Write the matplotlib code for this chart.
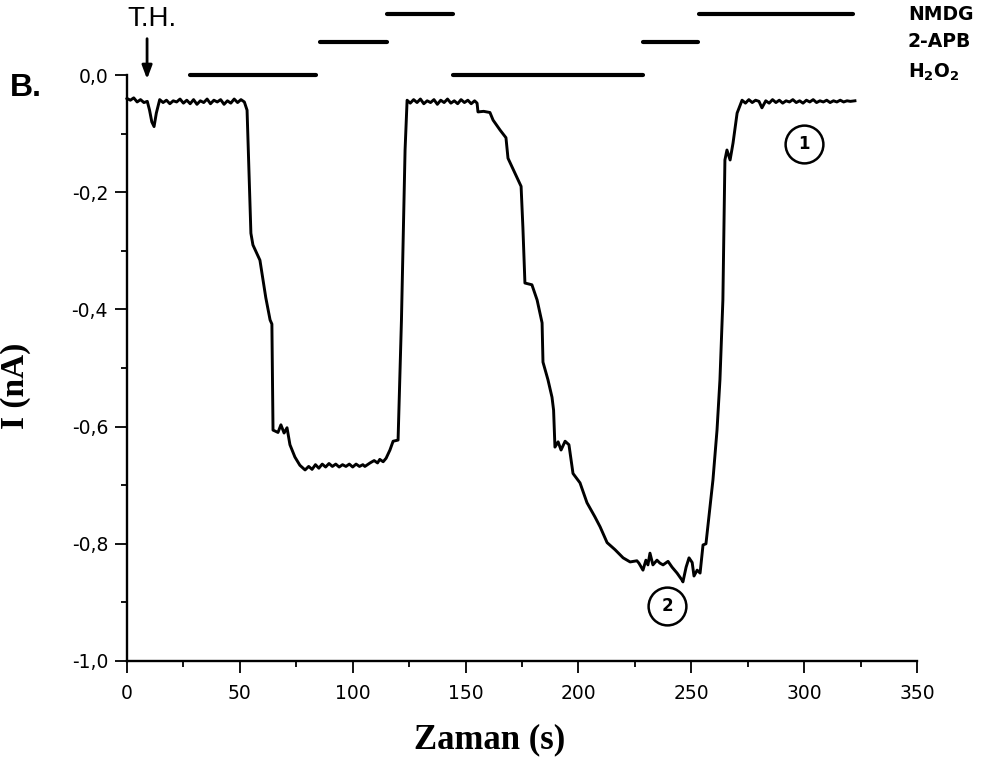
import matplotlib
matplotlib.use("Agg")
import matplotlib.pyplot as plt

# ---- data ----
time_s = [
    0, 1.5, 3, 4.5, 6, 7.5, 9, 10, 11, 12, 13, 14.5, 16, 17.5, 19, 20.5, 22, 23.5, 25, 26.5,
    28, 29.5, 31, 32.5, 34, 35.5, 37, 38.5, 40, 41.5, 43, 44.5, 46, 47.5, 49, 50.5, 52,
    53.2, 54.9, 55.8, 58.9, 59.8, 61.5, 63.4, 64.2, 64.7, 66.9, 68.2, 69.6, 70.9, 72.2,
    74.4, 76.6, 78.9, 80.5, 82, 83.5, 85, 86.5, 88, 89.5, 91, 92.5, 94, 95.5, 97, 98.5,
    100, 101.5, 103, 104.5, 105.4, 107.7, 109.5, 111, 112, 113.5, 114.8, 116.5, 117.9, 120.1,
    121.6, 122.7, 123.2, 124.1,
    125.5, 127, 128.5, 130, 131.5, 133, 134.5, 136, 137.5, 139, 140.5, 142, 143.5, 145,
    146.5, 148, 149.5, 151, 152.5, 154, 155.1,
    155.5, 158, 160.8, 162.2, 165.3, 167.9, 168.8, 170.6, 174.6, 175.4, 176.3, 179.4,
    181.7, 183.9, 184.3, 186.1, 186.5, 188.3, 189.0, 189.6, 191.0, 192.3, 194.1, 195.8,
    197.6, 200.7, 203.8, 207.3, 209.6, 212.7, 216.2, 219.8, 222.9, 225.9, 226.8, 228.6,
    229.9, 230.8, 231.7, 233.0, 234.8, 236.1, 237.5, 239.7, 241.5, 243.7, 245.9, 246.3,
    247.7, 249.0, 250.4, 251.2, 252.6, 253.9, 255.2, 256.5, 258.3, 259.6, 261.4, 262.7,
    264.0, 264.9, 265.8, 267.2, 268.5, 270.3, 272.5,
    274, 275.5, 277, 278.5, 280, 281.3, 283, 284.5, 286, 287.5, 289, 290.5, 292, 293.5,
    295, 296.5, 298, 299.5, 301, 302.5, 304, 305.5, 307, 308.5, 310, 311.5, 313, 314.5,
    316, 317.5, 319, 320.5, 322.5,
]
current_nA = [
    -0.040, -0.043, -0.039, -0.046, -0.042, -0.047, -0.045, -0.060, -0.080, -0.088, -0.065,
    -0.042, -0.047, -0.043, -0.049, -0.044, -0.046, -0.041, -0.048, -0.043,
    -0.049, -0.042, -0.050, -0.044, -0.047, -0.041, -0.049, -0.043, -0.046, -0.042, -0.050,
    -0.044, -0.048, -0.041, -0.047, -0.042, -0.046,
    -0.060, -0.270, -0.290, -0.316, -0.338, -0.380, -0.418, -0.425, -0.606, -0.610, -0.597,
    -0.611, -0.602, -0.631,
    -0.652, -0.666, -0.674, -0.668, -0.673, -0.665, -0.671, -0.664, -0.669, -0.663, -0.668,
    -0.664, -0.669, -0.665, -0.668, -0.664,
    -0.669, -0.664, -0.668, -0.665, -0.668, -0.662, -0.658, -0.662, -0.656, -0.660, -0.654,
    -0.640, -0.625, -0.623,
    -0.418, -0.213, -0.128, -0.043,
    -0.048, -0.042, -0.047, -0.041, -0.049, -0.044, -0.047, -0.042, -0.050, -0.043, -0.047,
    -0.041, -0.048, -0.044, -0.049, -0.042, -0.047, -0.043, -0.049, -0.044, -0.048,
    -0.063, -0.062, -0.064, -0.077, -0.094, -0.107, -0.142, -0.157, -0.190, -0.260, -0.355,
    -0.358, -0.384, -0.423, -0.490, -0.515, -0.520, -0.550, -0.572, -0.635, -0.626, -0.640,
    -0.625, -0.631,
    -0.680, -0.696, -0.730, -0.754, -0.771, -0.798, -0.810, -0.824, -0.831, -0.829, -0.833,
    -0.845,
    -0.828, -0.836, -0.816, -0.836, -0.828, -0.833, -0.836, -0.830, -0.840, -0.850, -0.862,
    -0.865,
    -0.840, -0.824, -0.832, -0.855, -0.845, -0.850, -0.802, -0.800, -0.737, -0.691, -0.606,
    -0.520,
    -0.384, -0.145, -0.128, -0.145, -0.116, -0.065, -0.043,
    -0.048, -0.042, -0.047, -0.043, -0.045, -0.056, -0.044, -0.048, -0.042, -0.047, -0.043,
    -0.048, -0.044, -0.046, -0.042, -0.047, -0.044, -0.048, -0.043, -0.046, -0.042, -0.047,
    -0.044, -0.046, -0.043, -0.047, -0.044, -0.046, -0.043, -0.046, -0.044, -0.045, -0.044,
]

# application bars: (start, end) in seconds
h2o2_bars = [(27.9, 83.7), (144.4, 228.6)]
apb_bars = [(85.5, 115.2), (228.6, 253.0)]
nmdg_bars = [(115.2, 144.4), (253.4, 321.7)]
bar_levels = {"NMDG": 0.104, "2-APB": 0.057, "H2O2": 0.0}

x_ticks = [0, 50, 100, 150, 200, 250, 300, 350]
y_ticks = [-1.0, -0.8, -0.6, -0.4, -0.2, 0.0]
y_tick_labels = ["-1,0", "-0,8", "-0,6", "-0,4", "-0,2", "0,0"]

# ---- figure ----
fig = plt.figure(figsize=(9.92, 7.6), dpi=100)
ax = fig.add_axes([0.128, 0.1303, 0.7964, 0.771])

ax.plot(time_s, current_nA, color="black", lw=2.1, clip_on=False,
        solid_joinstyle="round")

for bars, key in [(h2o2_bars, "H2O2"), (apb_bars, "2-APB"), (nmdg_bars, "NMDG")]:
    for a, b in bars:
        ax.plot([a, b], [bar_levels[key]] * 2, color="black", lw=3,
                solid_capstyle="round", clip_on=False)

ax.set_xlim(0, 350)
ax.set_ylim(-1.0, 0.0)
ax.set_xticks(x_ticks)
ax.set_xticks([25, 75, 125, 175, 225, 275, 325], minor=True)
ax.set_yticks(y_ticks)
ax.set_yticklabels(y_tick_labels)
ax.set_yticks([-0.9, -0.7, -0.5, -0.3, -0.1], minor=True)

for s in ["top", "right"]:
    ax.spines[s].set_visible(False)
for s in ["left", "bottom"]:
    ax.spines[s].set_linewidth(1.7)

ax.tick_params(axis="both", which="major", direction="out", length=8.6, width=1.3,
               labelsize=13.5, colors="black")
ax.tick_params(axis="both", which="minor", direction="out", length=4.3, width=1.3)
ax.tick_params(axis="x", which="major", pad=8)
ax.tick_params(axis="y", which="major", pad=5)
for lab in ax.get_xticklabels() + ax.get_yticklabels():
    lab.set_family("DejaVu Sans")

ax.set_xlabel("Zaman (s)", family="Liberation Serif", fontweight="bold", fontsize=25)
ax.xaxis.set_label_coords(0.459, -0.107)
ax.set_ylabel("I (nA)", family="Liberation Serif", fontweight="bold", fontsize=24)
ax.yaxis.set_label_coords(-0.122, 0.469)

# right-hand labels
lab_kw = dict(family="DejaVu Sans", fontweight="bold", fontsize=13.5, ha="left",
              va="center", clip_on=False)
ax.text(346, 0.104, "NMDG", **lab_kw)
ax.text(346, 0.058, "2-APB", **lab_kw)
ax.text(346, 0.004, r"H$_{\mathbf{2}}$O$_{\mathbf{2}}$", **lab_kw)

# T.H. marker
ax.annotate("", xy=(8.9, -0.007), xytext=(8.9, 0.062), annotation_clip=False,
            arrowprops=dict(arrowstyle="-|>,head_length=0.8,head_width=0.3",
                            lw=2, color="black", shrinkA=0, shrinkB=0))
ax.text(10.9, 0.096, "T.H.", family="Liberation Sans", fontsize=20, ha="center",
        va="center", clip_on=False)

fig.text(26 / 992, 1 - 88 / 760, "B.", family="Liberation Sans", fontweight="bold",
         fontsize=23, ha="center", va="center")

# circled numbers
for (cx, cy, num) in [(300, -0.118, "1"), (239.3, -0.906, "2")]:
    ax.scatter([cx], [cy], s=740, facecolors="white", edgecolors="black",
               linewidths=1.8, zorder=5, clip_on=False)
    ax.text(cx, cy, num, family="DejaVu Sans", fontweight="bold", fontsize=12,
            ha="center", va="center", zorder=6)

fig.savefig("out.png", dpi=100)
